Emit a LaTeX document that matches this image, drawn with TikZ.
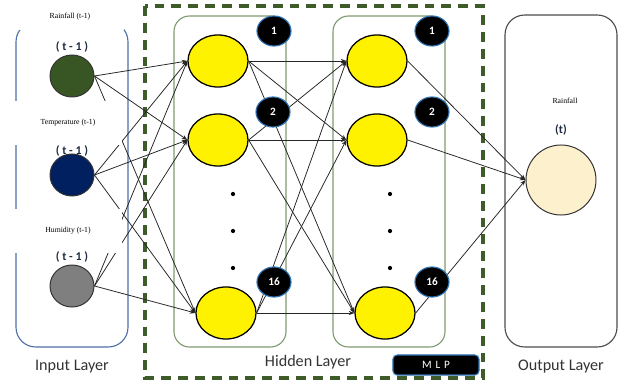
\documentclass[tikz,border=0pt]{standalone}
\usepackage{fontspec}
\setmainfont{Carlito}
\newfontfamily\tagfont{Liberation Serif}
\usetikzlibrary{shapes.geometric,arrows.meta}
\definecolor{inbox}{HTML}{4F6FA8}
\definecolor{hidbox}{HTML}{7F9A6F}
\definecolor{mlpgreen}{HTML}{3D5C2A}
\definecolor{rainfill}{HTML}{375623}
\definecolor{tempfill}{HTML}{002060}
\definecolor{humfill}{HTML}{7F7F7F}
\definecolor{outfill}{HTML}{FDF0CC}
\definecolor{badgeline}{HTML}{2E75B6}
\definecolor{lagblue}{HTML}{1F2A44}

\begin{document}
\begin{tikzpicture}[x=0.025cm,y=-0.025cm,
    neuron/.style={ellipse,draw=black,line width=0.9pt,fill=yellow,minimum width=1.5cm,minimum height=1.3cm,inner sep=0pt},
    innode/.style={ellipse,draw=black!80,line width=0.7pt,minimum width=1.1cm,minimum height=1.05cm,inner sep=0pt},
    badge/.style={ellipse,fill=black,draw=badgeline,line width=0.8pt,text=white,font=\bfseries\fontsize{8}{9}\selectfont,minimum width=0.85cm,minimum height=0.75cm,inner sep=0pt},
    tag/.style={font=\tagfont\fontsize{5.5}{6}\selectfont},
    cover/.style={tag,fill=white,inner sep=0pt,minimum width=2.7cm,minimum height=1.1cm},
    lag/.style={font=\bfseries\fontsize{8.5}{9}\selectfont,text=lagblue},
    layer/.style={font=\fontsize{11.5}{13}\selectfont,text=black!80},
    link/.style={-{Stealth[length=4pt,width=3pt]},draw=black!85,line width=0.55pt},
    dot/.style={circle,fill=black,inner sep=0pt,minimum size=3pt}]

    \useasboundingbox (0,0) rectangle (624,380);

    \draw[mlpgreen, line width=2.2pt, dash pattern=on 7pt off 5pt] (145,6) rectangle (483,378);

    \draw[inbox, line width=0.8pt, rounded corners=14pt] (16,22) rectangle (128,347);
    \draw[hidbox, line width=0.8pt, rounded corners=11pt] (174,16) rectangle (286,347);
    \draw[hidbox, line width=0.8pt, rounded corners=11pt] (333,16) rectangle (445,347);
    \draw[black!70, line width=0.8pt, rounded corners=14pt] (505,15) rectangle (617,347);

    \node[innode, fill=rainfill] (rain) at (72,76) {};
    \node[innode, fill=tempfill] (temp) at (72,175) {};
    \node[innode, fill=humfill] (hum) at (72,286) {};

    \node[neuron] (h1a) at (218,61) {};
    \node[neuron] (h1b) at (218,140) {};
    \node[neuron] (h1c) at (226,313) {};
    \node[neuron] (h2a) at (377,61) {};
    \node[neuron] (h2b) at (377,140) {};
    \node[neuron] (h2c) at (385,313) {};

    \node[circle, draw=black!80, line width=0.7pt, fill=outfill, minimum size=1.75cm, inner sep=0pt] (out) at (561,180) {};

    \node[dot] (d1a) at (233,194) {};
    \node[dot] (d1b) at (233,231) {};
    \node[dot] (d1c) at (233,268) {};
    \node[dot] (d2a) at (390,194) {};
    \node[dot] (d2b) at (390,231) {};
    \node[dot] (d2c) at (390,268) {};

    \draw[link] (rain.east) -- (h1a.west);
    \draw[link] (rain.east) -- (h1b.west);
    \draw[link] (rain.east) -- (h1c.west);
    \draw[link] (temp.east) -- (h1a.west);
    \draw[link] (temp.east) -- (h1b.west);
    \draw[link] (temp.east) -- (h1c.west);
    \draw[link] (hum.east) -- (h1a.west);
    \draw[link] (hum.east) -- (h1b.west);
    \draw[link] (hum.east) -- (h1c.west);

    \draw[link] (h1a.east) -- (h2a.west);
    \draw[link] (h1a.east) -- (h2b.west);
    \draw[link] (h1a.east) -- (h2c.west);
    \draw[link] (h1b.east) -- (h2a.west);
    \draw[link] (h1b.east) -- (h2b.west);
    \draw[link] (h1b.east) -- (h2c.west);
    \draw[link] (h1c.east) -- (h2a.west);
    \draw[link] (h1c.east) -- (h2b.west);
    \draw[link] (h1c.east) -- (h2c.west);

    \draw[link] (h2a.east) -- (out.west);
    \draw[link] (h2b.east) -- (out.west);
    \draw[link] (h2c.east) -- (out.west);

    \node[badge] (b1a) at (274,31) {1};
    \node[badge] (b1b) at (273,112) {2};
    \node[badge] (b1c) at (274,282) {16};
    \node[badge] (b2a) at (432,31) {1};
    \node[badge] (b2b) at (432,112) {2};
    \node[badge] (b2c) at (432,282) {16};

    \node[cover, minimum height=0.65cm] (raintag) at (70,17) {Rainfall (t-1)};
    \node[cover] (temptag) at (68,123) {Temperature (t-1)};
    \node[cover] (humtag) at (68,231) {Humidity (t-1)};
    \node[lag] (rainlag) at (72,47) {( t - 1 )};
    \node[lag] (templag) at (72,151) {( t - 1 )};
    \node[lag] (humlag) at (72,257) {( t - 1 )};

    \node[tag] (outtag) at (565,101) {Rainfall};
    \node[lag] (outlag) at (561,130) {(t)};

    \node[layer] (inlabel) at (72,367) {Input Layer};
    \node[layer] (hidlabel) at (308,362) {Hidden Layer};
    \node[layer] (outlabel) at (561,367) {Output Layer};

    \node[fill=black, draw=badgeline, line width=0.8pt, rounded corners=3pt, text=white, minimum width=2.15cm, minimum height=0.5cm, inner sep=0pt, font=\fontsize{8}{9}\selectfont] (mlp) at (436,365) {M\,\,L\,\,P};
\end{tikzpicture}
\end{document}
